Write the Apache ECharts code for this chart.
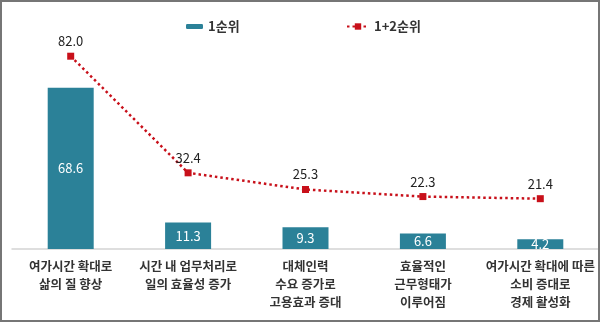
<!DOCTYPE html>
<html>
<head>
<meta charset="utf-8">
<script src="https://cdn.jsdelivr.net/npm/echarts@6/dist/echarts.min.js"></script>
<style>
  html, body { margin: 0; padding: 0; background: #fff; }
  #wrap { position: relative; width: 600px; height: 322px; }
  #chart { position: absolute; left: 0; top: 0; width: 600px; height: 322px; }
  #frame { position: absolute; left: 0; top: 0; width: 600px; height: 322px;
           box-sizing: border-box; border: 2px solid #767676; pointer-events: none; }
</style>
</head>
<body>
<div id="wrap">
  <div id="chart"></div>
  <div id="frame"></div>
</div>
<script>
// Reasons, one per category (two/three-line labels)
const categories = [
  '여가시간 확대로\n삶의 질 향상',
  '시간 내 업무처리로\n일의 효율성 증가',
  '대체인력\n수요 증가로\n고용효과 증대',
  '효율적인\n근무형태가\n이루어짐',
  '여가시간 확대에 따른\n소비 증대로\n경제 활성화'
];
const firstRank = [68.6, 11.3, 9.3, 6.6, 4.2];
const firstPlusSecond = [82.0, 32.4, 25.3, 22.3, 21.4];
const seriesNames = ['1순위', '1+2순위'];

const FONT = '"Noto Sans CJK KR", "Noto Sans", sans-serif';
const BAR_COLOR = '#2b8198';
const LINE_COLOR = '#c8101a';

const chart = echarts.init(document.getElementById('chart'), null, { renderer: 'canvas' });

chart.setOption({
  animation: false,
  backgroundColor: '#ffffff',
  textStyle: { fontFamily: FONT },
  legend: [
    {
      data: [seriesNames[0]],
      left: 181, top: 15,
      itemWidth: 17, itemHeight: 5,
      textStyle: { fontFamily: FONT, fontSize: 13, fontWeight: 'bold', color: '#333' }
    },
    {
      data: [seriesNames[1]],
      left: 341, top: 15,
      itemWidth: 22, itemHeight: 8,
      textStyle: { fontFamily: FONT, fontSize: 13, fontWeight: 'bold', color: '#333' }
    }
  ],
  grid: { left: 12, right: 1, top: 37.4, bottom: 73, containLabel: false },
  xAxis: {
    type: 'category',
    data: categories,
    axisLine: { show: true, lineStyle: { color: '#d4d4d4', width: 1.5 } },
    axisTick: { show: false },
    axisLabel: {
      interval: 0, margin: 8,
      fontFamily: FONT, fontSize: 12.5, fontWeight: 'bold',
      color: '#333', lineHeight: 18
    }
  },
  yAxis: {
    type: 'value', min: 0, max: 90, interval: 10,
    show: false,
    splitLine: { show: false }
  },
  series: [
    {
      name: seriesNames[0],
      type: 'bar',
      data: firstRank,
      barWidth: 46,
      itemStyle: { color: BAR_COLOR },
      label: {
        show: true, position: 'inside',
        formatter: p => p.value.toFixed(1),
        fontFamily: FONT, fontSize: 13, color: '#ffffff'
      },
      z: 2
    },
    {
      name: seriesNames[1],
      type: 'line',
      data: firstPlusSecond,
      symbol: 'rect', symbolSize: 7,
      itemStyle: { color: LINE_COLOR },
      lineStyle: { color: LINE_COLOR, width: 2.5, type: [2.5, 3] },
      label: {
        show: true, position: 'top', distance: 5,
        formatter: p => p.value.toFixed(1),
        fontFamily: FONT, fontSize: 13, color: '#222'
      },
      z: 3
    }
  ]
});
</script>
</body>
</html>
